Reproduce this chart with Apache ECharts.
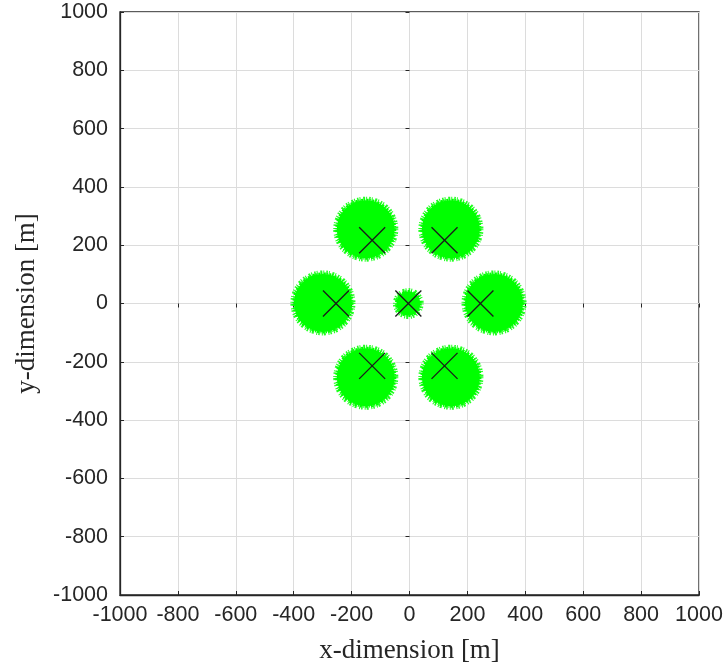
<!DOCTYPE html>
<html>
<head>
<meta charset="utf-8">
<script src="https://cdn.jsdelivr.net/npm/echarts@6/dist/echarts.min.js"></script>
<style>html,body{margin:0;padding:0;background:#fff}#c{width:727px;height:670px}</style>
</head>
<body>
<div id="c"></div>
<script>
// user clusters (center x, center y, outer radius in m)
var clusterX = [-151, 143, -299, 292, -151, 143, -4];
var clusterY = [255, 255, 2, 2, -253, -253, 0];
var clusterR = [112, 112, 112, 112, 112, 112, 53];
// base stations
var bsX = [-129, 121, -254, 245, -129, 121, -4];
var bsY = [217, 217, 0, 0, -214, -214, 0];
// ticks
var xTicks = [-1000, -800, -600, -400, -200, 0, 200, 400, 600, 800, 1000];
var yTicks = [-1000, -800, -600, -400, -200, 0, 200, 400, 600, 800, 1000];

var clusterData = clusterX.map(function (x, i) { return [x, clusterY[i], clusterR[i]]; });
var bsData = bsX.map(function (x, i) { return [x, bsY[i]]; });

var chart = echarts.init(document.getElementById('c'), null, {renderer: 'canvas'});
var axisText = {color: '#262626', fontFamily: 'Liberation Sans', fontSize: 21.5};
var nameText = {color: '#262626', fontFamily: 'Liberation Serif', fontSize: 27};
chart.setOption({
  animation: false,
  grid: {left: 120, right: 28, top: 12, bottom: 75, show: true, borderColor: '#262626', borderWidth: 1.3},
  xAxis: [{
    type: 'value', min: -1000, max: 1000, interval: 200,
    name: 'x-dimension [m]', nameLocation: 'middle', nameGap: 42,
    nameTextStyle: nameText,
    axisLine: {show: true, onZero: false, lineStyle: {color: '#262626', width: 1.3}},
    axisTick: {show: true, inside: true, length: 4, lineStyle: {color: '#262626'}},
    axisLabel: Object.assign({margin: 9, formatter: function (v) { return xTicks.indexOf(v) >= 0 ? String(v) : ''; }}, axisText),
    splitLine: {show: true, lineStyle: {color: '#dcdcdc', width: 1}}
  }, {
    type: 'value', min: -1000, max: 1000, interval: 200, position: 'top',
    axisLine: {show: false}, axisLabel: {show: false}, splitLine: {show: false},
    axisTick: {show: true, inside: true, length: 4, lineStyle: {color: '#262626'}}
  }],
  yAxis: [{
    type: 'value', min: -1000, max: 1000, interval: 200,
    name: 'y-dimension [m]', nameLocation: 'middle', nameGap: 80,
    nameTextStyle: nameText,
    axisLine: {show: true, onZero: false, lineStyle: {color: '#262626', width: 1.3}},
    axisTick: {show: true, inside: true, length: 4, lineStyle: {color: '#262626'}},
    axisLabel: Object.assign({margin: 12, formatter: function (v) { return yTicks.indexOf(v) >= 0 ? String(v) : ''; }}, axisText),
    splitLine: {show: true, lineStyle: {color: '#dcdcdc', width: 1}}
  }, {
    type: 'value', min: -1000, max: 1000, interval: 200, position: 'right',
    axisLine: {show: false}, axisLabel: {show: false}, splitLine: {show: false},
    axisTick: {show: true, inside: true, length: 4, lineStyle: {color: '#262626'}}
  }],
  series: [{
    type: 'custom',
    data: clusterData,
    renderItem: function (params, api) {
      var c = api.coord([api.value(0), api.value(1)]);
      var s = api.size([api.value(2), api.value(2)]);
      var r = (s[0] + s[1]) / 2;
      return {
        type: 'group',
        children: [{
          type: 'circle',
          shape: {cx: c[0], cy: c[1], r: r - 2},
          style: {fill: 'none', stroke: '#22ff22', lineWidth: 4, lineDash: [1, 2, 1.5, 1, 1, 2.5, 2, 1]}
        }, {
          type: 'circle',
          shape: {cx: c[0], cy: c[1], r: r - 3.5},
          style: {fill: '#00ff00', stroke: '#00ff00', lineWidth: 3, lineDash: [2, 1, 1, 1.5]}
        }, {
          type: 'circle',
          shape: {cx: c[0], cy: c[1], r: r - 5},
          style: {fill: '#00ff00', stroke: null}
        }]
      };
    },
    z: 2
  }, {
    type: 'custom',
    data: bsData,
    renderItem: function (params, api) {
      var c = api.coord([api.value(0), api.value(1)]);
      var h = 13;
      var st = {stroke: '#1a1a1a', lineWidth: 1.3};
      return {
        type: 'group',
        children: [
          {type: 'line', shape: {x1: c[0] - h, y1: c[1] - h, x2: c[0] + h, y2: c[1] + h}, style: st},
          {type: 'line', shape: {x1: c[0] - h, y1: c[1] + h, x2: c[0] + h, y2: c[1] - h}, style: st}
        ]
      };
    },
    z: 3
  }]
});
</script>
</body>
</html>
